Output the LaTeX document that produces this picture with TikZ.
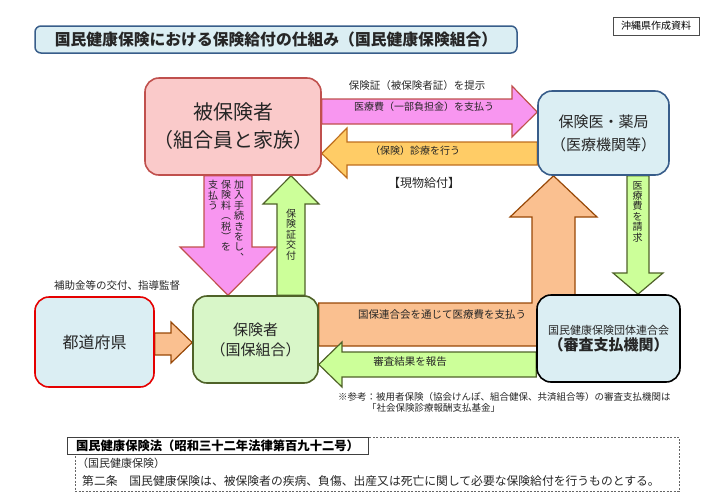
\documentclass[tikz,border=0pt]{standalone}
\usepackage{fontspec}
\setmainfont{Noto Sans CJK JP}
\usetikzlibrary{backgrounds}
\usetikzlibrary{shadows}
\definecolor{boxBlue}{RGB}{219,238,243}
\definecolor{boxPink}{RGB}{250,202,202}
\definecolor{boxGreen}{RGB}{216,246,200}
\definecolor{lineBlue}{RGB}{56,93,138}
\definecolor{lineRed}{RGB}{192,80,77}
\definecolor{lineGreen}{RGB}{79,98,40}
\definecolor{lineBrown}{RGB}{152,72,7}
\definecolor{lineOrange}{RGB}{190,110,30}
\definecolor{arrowPink}{RGB}{248,150,240}
\definecolor{arrowYellow}{RGB}{255,204,102}
\definecolor{arrowPeach}{RGB}{250,192,144}
\definecolor{arrowGreen}{RGB}{204,255,153}
\colorlet{penText}{black!85}
\tikzset{
  box/.style={draw, rounded corners=14pt, line width=1.6pt, align=center, inner sep=0pt, text=penText},
  lbl/.style={font=\fontsize{10.5}{12}\selectfont, text=penText, inner sep=0pt},
  vlbl/.style={font=\fontsize{10}{10.4}\selectfont, text=penText, align=center, inner sep=0pt, anchor=north},
  arrPink/.style={fill=arrowPink, draw=lineRed, line width=1.2pt},
  arrYellow/.style={fill=arrowYellow, draw=lineOrange, line width=1.2pt},
  arrPeach/.style={fill=arrowPeach, draw=lineBrown, line width=1.2pt},
  arrGreen/.style={fill=arrowGreen, draw=lineGreen, line width=1.2pt}
}
\begin{document}
\begin{tikzpicture}[x=1pt,y=-1pt]
\useasboundingbox (0,0) rectangle (720,499);
% title and source
\node[box, rounded corners=6pt, line width=1.5pt, fill=boxBlue, draw=lineBlue, minimum width=482pt, minimum height=27pt, font=\bfseries\fontsize{15.8}{18}\selectfont] (title) at (276,39.5) {国民健康保険における保険給付の仕組み（国民健康保険組合）};
\node[draw=black!70, line width=0.6pt, fill=white, minimum width=86pt, minimum height=18pt, inner sep=0pt, font=\fontsize{10}{12}\selectfont] (src) at (656,26) {沖縄県作成資料};
% boxes
\node[box, fill=boxPink, draw=lineRed, minimum width=176pt, minimum height=97pt, font=\fontsize{20}{28}\selectfont] (ins) at (233,126.5) {被保険者\\（組合員と家族）};
\node[box, fill=boxBlue, draw=lineBlue, minimum width=131pt, minimum height=84pt, font=\fontsize{15}{23}\selectfont] (med) at (603.5,133) {保険医・薬局\\（医療機関等）};
\node[box, fill=boxBlue, draw=red!90!black, minimum width=119pt, minimum height=90pt, font=\fontsize{16}{20}\selectfont] (pref) at (94.5,342) {都道府県};
\node[box, fill=boxGreen, draw=lineGreen, minimum width=125pt, minimum height=87pt, font=\fontsize{15}{20}\selectfont] (kumi) at (255.5,339.5) {保険者\\（国保組合）};
\node[box, fill=boxBlue, draw=black, minimum width=143pt, minimum height=87pt] (rengo) at (608.5,338.5) {{\fontsize{11}{13}\selectfont 国民健康保険団体連合会}\\[1pt]{\bfseries\fontsize{15}{18}\selectfont （審査支払機関）}};
% block arrows
\begin{scope}[on background layer]
\draw[arrPink] (ins.east |- 0,99) -- (512,99) -- (512,86) -- (med.west |- 0,112) -- (512,137) -- (512,124) -- (ins.east |- 0,124) -- cycle;
\draw[arrYellow] (med.west |- 0,142) -- (347,142) -- (347,128) -- (ins.east |- 0,153.5) -- (347,178) -- (347,165) -- (med.west |- 0,165) -- cycle;
\draw[arrPink] (ins.south -| 204,0) -- (204,247) -- (180,247) -- (kumi.north -| 228,0) -- (276,247) -- (252,247) -- (ins.south -| 252,0) -- cycle;
\draw[arrGreen] (kumi.north -| 277,0) -- (277,204) -- (263,204) -- (ins.south -| 291,0) -- (319,204) -- (305,204) -- (kumi.north -| 305,0) -- cycle;
\draw[arrGreen] (med.south -| 627,0) -- (627,273) -- (613,273) -- (rengo.north -| 638,0) -- (663,273) -- (649,273) -- (med.south -| 649,0) -- cycle;
\draw[arrPeach] (kumi.east |- 0,303) -- (532,303) -- (532,217) -- (510,217) -- (med.south -| 553.5,0) -- (597,217) -- (575,217) -- (575,346) -- (kumi.east |- 0,346) -- cycle;
\draw[arrGreen] (rengo.west |- 0,352) -- (342,352) -- (342,342) -- (kumi.east |- 0,364.5) -- (342,387) -- (342,377) -- (rengo.west |- 0,377) -- cycle;
\draw[arrPeach] (pref.east |- 0,333) -- (171,333) -- (171,322) -- (kumi.west |- 0,342.5) -- (171,363) -- (171,355) -- (pref.east |- 0,355) -- cycle;
\end{scope}
% labels
\node[lbl] (lshow) at (417,86) {保険証（被保険者証）を提示};
\node[lbl, font=\fontsize{10}{12}\selectfont] (lpay) at (424,107) {医療費（一部負担金）を支払う};
\node[lbl, font=\fontsize{10}{12}\selectfont] (ltreat) at (415,151) {（保険）診療を行う};
\node[lbl, font=\fontsize{12}{14}\selectfont] (lkind) at (424,183) {【現物給付】};
\node[lbl] (lsub) at (117,285) {補助金等の交付、指導監督};
\node[lbl] (lvia) at (442,315) {国保連合会を通じて医療費を支払う};
\node[lbl] (lrep) at (410,362) {審査結果を報告};
\node[vlbl] (vjoin) at (239,180) {加\\入\\手\\続\\き\\を\\し\\︑};
\node[vlbl] (vprem) at (226,180) {保\\険\\料\\︵\\税\\︶\\を};
\node[vlbl] (vpay) at (213,180) {支\\払\\う};
\node[vlbl] (vcard) at (291,209) {保\\険\\証\\交\\付};
\node[vlbl] (vclaim) at (637.5,181) {医\\療\\費\\を\\請\\求};
% note
\node[lbl, anchor=west, font=\fontsize{9.5}{11}\selectfont] (ref1) at (338,397) {※参考：被用者保険（協会けんぽ、組合健保、共済組合等）の審査支払機関は};
\node[lbl, anchor=west, font=\fontsize{9.5}{11}\selectfont] (ref2) at (367,408) {「社会保険診療報酬支払基金」};
% law
\node[draw=black!60, dash pattern=on 2pt off 1.5pt, line width=0.6pt, minimum width=604pt, minimum height=54pt, inner sep=0pt] (lawframe) at (377,464) {};
\node[draw=black!75, fill=white, line width=0.6pt, drop shadow={shadow xshift=1pt, shadow yshift=-1pt, fill=black!45}, minimum width=301pt, minimum height=17pt, inner sep=0pt, font=\bfseries\fontsize{12.3}{14}\selectfont] (lawtitle) at (217.5,445.5) {国民健康保険法（昭和三十二年法律第百九十二号）};
\node[lbl, anchor=west, font=\fontsize{11}{13}\selectfont] (art1) at (77,463) {（国民健康保険）};
\node[lbl, anchor=west, font=\fontsize{11.8}{13}\selectfont] (art2) at (82,481) {第二条\quad 国民健康保険は、被保険者の疾病、負傷、出産又は死亡に関して必要な保険給付を行うものとする。};
\end{tikzpicture}
\end{document}
